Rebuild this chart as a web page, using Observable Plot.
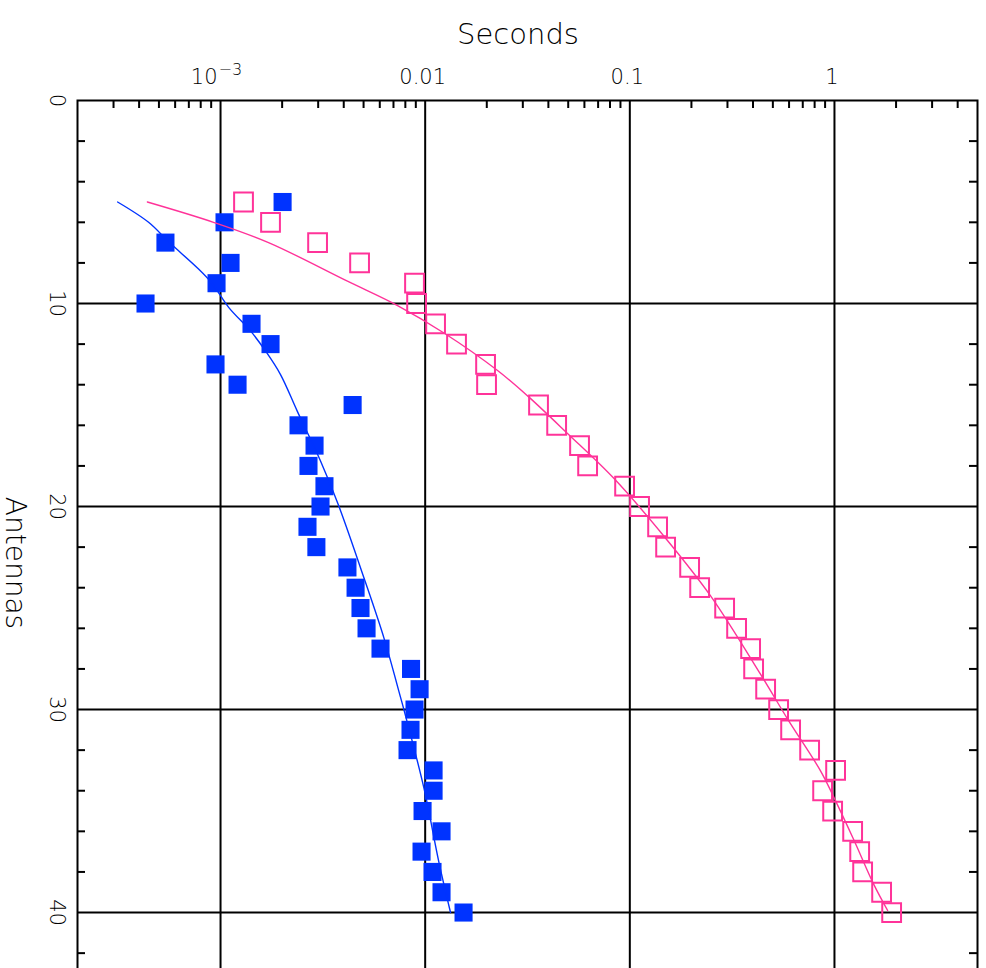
<!DOCTYPE html>
<html><head><meta charset="utf-8">
<script src="https://cdn.jsdelivr.net/npm/d3@7"></script>
<script src="https://cdn.jsdelivr.net/npm/@observablehq/plot@0.6"></script>
<style>
html,body{margin:0;padding:0;background:#fff;overflow:hidden}
#wrap{width:986px;height:968px;overflow:hidden;position:relative;background:#fff}
</style></head><body><div id="wrap"></div>
<script>
// ---- data ----
const antennas = [5,6,7,8,9,10,11,12,13,14,15,16,17,18,19,20,21,22,23,24,25,26,27,28,29,30,31,32,33,34,35,36,37,38,39,40];
const blueSeconds = [2.01e-3,1.046e-3,5.38e-4,1.119e-3,9.56e-4,4.30e-4,1.417e-3,1.755e-3,9.45e-4,1.211e-3,
  4.42e-3,2.405e-3,2.88e-3,2.69e-3,3.22e-3,3.08e-3,2.66e-3,2.94e-3,4.17e-3,4.57e-3,
  4.83e-3,5.17e-3,6.05e-3,8.53e-3,9.39e-3,8.87e-3,8.48e-3,8.20e-3,1.099e-2,1.099e-2,
  9.71e-3,1.202e-2,9.60e-3,1.086e-2,1.202e-2,1.54e-2];
const pinkSeconds = [1.295e-3,1.755e-3,2.98e-3,4.78e-3,8.87e-3,9.08e-3,1.124e-2,1.423e-2,1.973e-2,1.995e-2,
  3.58e-2,4.39e-2,5.68e-2,6.22e-2,9.43e-2,0.1116,0.1367,0.1496,0.196,0.2194,
  0.2906,0.3325,0.3893,0.4027,0.461,0.5335,0.6106,0.7562,1.013,0.8754,
  0.9797,1.227,1.328,1.373,1.70,1.903];
// fitted curves
const blueFitAntennas = [5,6,7,8.24,9,10.2,11.35,12.34,13.5,15.3,17.76,19.98,23.5,26.46,29.4,30,33.85,37.5,40];
const blueFitSeconds  = [3.14e-4,4.45e-4,5.63e-4,7.69e-4,9.07e-4,1.098e-3,1.401e-3,1.659e-3,1.964e-3,2.37e-3,3.08e-3,3.785e-3,5.015e-3,6.28e-3,7.58e-3,7.87e-3,9.85e-3,1.166e-2,1.33e-2];
const pinkFitAntennas = [5,6,7,8.9,10.1,11.44,13.3,14.55,16.4,18.6,21.5,24.4,28.27,30.47,33.03,34.3,36.4,38.6,39.9];
const pinkFitSeconds  = [4.39e-4,9.24e-4,1.716e-3,4.17e-3,7.33e-3,1.23e-2,2.258e-2,3.165e-2,4.96e-2,8.33e-2,0.1479,0.2481,0.4358,0.5904,0.8561,0.9908,1.241,1.554,1.819];
// axes
const xMajorTicks = [1e-3, 1e-2, 1e-1, 1];
const xTickBase = ["10", "0.01", "0.1", "1"];
const xTickExponent = ["\u22123", "", "", ""];
const xMinorTicks = [3e-4,4e-4,5e-4,6e-4,7e-4,8e-4,9e-4,
  2e-3,3e-3,4e-3,5e-3,6e-3,7e-3,8e-3,9e-3,
  0.02,0.03,0.04,0.05,0.06,0.07,0.08,0.09,
  0.2,0.3,0.4,0.5,0.6,0.7,0.8,0.9, 2,3,4];
const yMajorTicks = [10, 20, 30, 40];
const yTickLabelValues = [0, 10, 20, 30, 40];
const yMinorTicks = [2,4,6,8,12,14,16,18,22,24,26,28,32,34,36,38,42];
const xTitle = "Seconds";
const yTitle = "Antennas";

const blue = "#0033ff", pink = "#ff3399", ink = "#000";
const points = antennas.map((a, i) => ({a, blue: blueSeconds[i], pink: pinkSeconds[i]}));
const blueFit = blueFitAntennas.map((a, i) => ({a, s: blueFitSeconds[i]}));
const pinkFit = pinkFitAntennas.map((a, i) => ({a, s: pinkFitSeconds[i]}));
const xLabels = xMajorTicks.map((v, i) => ({v, base: xTickBase[i], exp: xTickExponent[i]}));
const plainLabels = xLabels.filter(d => !d.exp);
const powerLabels = xLabels.filter(d => d.exp);

const W = 986, H = 987, mT = 100, mB = 10, mL = 77, mR = 9;
const innerH = H - mT - mB, innerW = W - mL - mR, tick = 8;
const font = "DejaVu Sans";
const tx = {fill: ink, fontWeight: 200, lineAnchor: "middle"};

const chart = Plot.plot({
  width: W, height: H,
  marginTop: mT, marginBottom: mB, marginLeft: mL, marginRight: mR,
  style: {fontFamily: font, background: "#fff", overflow: "visible"},
  x: {type: "log", domain: [2e-4, 5], axis: null},
  y: {domain: [0, 43.2], reverse: true, axis: null},
  marks: [
    Plot.ruleX(xMajorTicks, {stroke: ink, strokeWidth: 2}),
    Plot.ruleY(yMajorTicks, {stroke: ink, strokeWidth: 2}),
    Plot.ruleX(xMinorTicks, {stroke: ink, strokeWidth: 2, insetBottom: innerH - tick}),
    Plot.ruleX(xMinorTicks, {stroke: ink, strokeWidth: 2, insetTop: innerH - tick}),
    Plot.ruleY(yMinorTicks, {stroke: ink, strokeWidth: 2, insetRight: innerW - tick}),
    Plot.ruleY(yMinorTicks, {stroke: ink, strokeWidth: 2, insetLeft: innerW - tick}),
    Plot.frame({stroke: ink, strokeWidth: 2}),
    Plot.dot(points, {x: "blue", y: "a", symbol: "square", r: 10.2, fill: blue, stroke: null}),
    Plot.dot(points, {x: "pink", y: "a", symbol: "square", r: 10.6, fill: "none", stroke: pink, strokeWidth: 2}),
    Plot.line(blueFit, {x: "s", y: "a", stroke: blue, strokeWidth: 1.4, curve: "catmull-rom"}),
    Plot.line(pinkFit, {x: "s", y: "a", stroke: pink, strokeWidth: 1.4, curve: "catmull-rom"}),
    Plot.text(plainLabels, {x: "v", text: "base", frameAnchor: "top", dy: -23, dx: -2.5, fontSize: 21, textAnchor: "middle", ...tx}),
    Plot.text(powerLabels, {x: "v", text: "base", frameAnchor: "top", dy: -23, dx: -3, fontSize: 21, textAnchor: "end", ...tx}),
    Plot.text(powerLabels, {x: "v", text: "exp", frameAnchor: "top", dy: -31, dx: -2, fontSize: 16, textAnchor: "start", ...tx}),
    Plot.text(yTickLabelValues, {y: d => d, text: d => String(d), frameAnchor: "left", dx: -21, rotate: 90, fontSize: 21, textAnchor: "middle", ...tx}),
    Plot.text([xTitle], {text: d => d, frameAnchor: "top", dy: -66, dx: -9.5, fontSize: 29, textAnchor: "middle", ...tx}),
    Plot.text([yTitle], {text: d => d, frameAnchor: "left", dx: -63, dy: 24, rotate: 90, fontSize: 28, textAnchor: "middle", ...tx})
  ]
});
document.getElementById("wrap").appendChild(chart);
</script>
</body></html>
